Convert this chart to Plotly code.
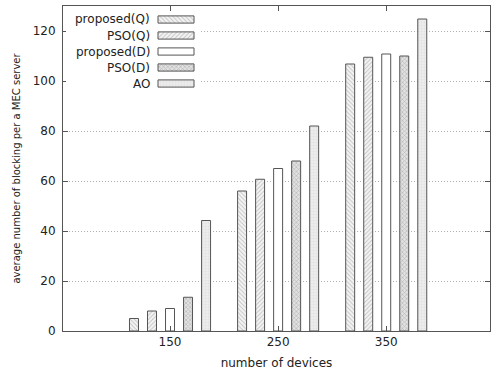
import plotly.graph_objects as go

categories = ["150", "250", "350"]
series_names = ["proposed(Q)", "PSO(Q)", "proposed(D)", "PSO(D)", "AO"]
proposed_q = [5, 56, 106.8]
pso_q = [8, 60.7, 109.5]
proposed_d = [9, 65, 110.8]
pso_d = [13.5, 68, 110]
ao = [44.2, 82, 124.8]
values = [proposed_q, pso_q, proposed_d, pso_d, ao]
y_ticks = [0, 20, 40, 60, 80, 100, 120]

styles = [
    dict(color="#f4f4f4", pattern=dict(shape="\\", fgcolor="#8f8f8f", bgcolor="#f4f4f4", size=3, solidity=0.3)),
    dict(color="#f4f4f4", pattern=dict(shape="/", fgcolor="#8f8f8f", bgcolor="#f4f4f4", size=3, solidity=0.3)),
    dict(color="#ffffff", pattern=dict(shape="")),
    dict(color="#d8d8d8", pattern=dict(shape="x", fgcolor="#8c8c8c", bgcolor="#e2e2e2", size=3, solidity=0.4)),
    dict(color="#e8e8e8", pattern=dict(shape=".", fgcolor="#d6d6d6", bgcolor="#ececec", size=3, solidity=0.3)),
]
outline = dict(color="#555555", width=1)

FONT = "DejaVu Sans"
W, H = 492, 374
L, R, T, B = 63, 2, 6, 43
pw, ph = W - L - R, H - T - B

def px2x(p):
    return (p - L) / pw

def px2y(p):
    return (H - B - p) / ph

# legend box geometry (pixels)
LX0, LX1 = 66, 200
SX0, SX1 = 158, 194

fig = go.Figure()
slot = 0.1667
bw = 0.083
for i, (name, vals) in enumerate(zip(series_names, values)):
    center = (i - 2) * slot
    fig.add_trace(go.Bar(
        x=categories, y=vals, name=name, width=bw, offset=center - bw / 2,
        marker=dict(color=styles[i]["color"], pattern=styles[i]["pattern"], line=outline),
        showlegend=False, xaxis="x", yaxis="y",
    ))

# white legend background (covers grid lines)
fig.add_trace(go.Bar(
    y=[series_names[2]], x=[1], base=[0], orientation="h", width=5.6,
    marker=dict(color="white", line=dict(width=0)),
    showlegend=False, xaxis="x2", yaxis="y2", hoverinfo="skip",
))
s0 = (SX0 - LX0) / (LX1 - LX0)
s1 = (SX1 - LX0) / (LX1 - LX0)
for i, name in enumerate(series_names):
    fig.add_trace(go.Bar(
        y=[name], x=[s1 - s0], base=[s0], orientation="h", width=0.45,
        marker=dict(color=styles[i]["color"], pattern=styles[i]["pattern"], line=outline),
        showlegend=False, xaxis="x2", yaxis="y2", hoverinfo="skip",
    ))

annotations = []
for i, name in enumerate(series_names):
    annotations.append(dict(
        x=px2x(152), y=px2y(19.5 + 16 * i), xref="paper", yref="paper",
        text=name, showarrow=False, xanchor="right", yanchor="middle",
        font=dict(family=FONT, size=12, color="#222222"),
    ))

fig.update_layout(
    width=W, height=H,
    margin=dict(l=L, r=R, t=T, b=B, autoexpand=False),
    paper_bgcolor="white", plot_bgcolor="white",
    barmode="overlay",
    font=dict(family=FONT, size=12, color="#222222"),
    xaxis=dict(
        type="category", categoryorder="array", categoryarray=categories,
        range=[-0.99, 2.96], showline=True, linecolor="#555555", linewidth=1,
        mirror="ticks", ticks="inside", ticklen=5, tickcolor="#555555",
        showgrid=False, zeroline=False, automargin=False,
        title=dict(text="number of devices", font=dict(size=12), standoff=10),
        tickfont=dict(size=12),
    ),
    yaxis=dict(
        range=[0, 130], tickvals=y_ticks, showline=True, linecolor="#555555", linewidth=1,
        mirror="ticks", ticks="inside", ticklen=5, tickcolor="#555555",
        showgrid=True, gridcolor="#b0b0b0", griddash="1px,2px", gridwidth=1,
        zeroline=False, ticklabelstandoff=4, automargin=False,
        title=dict(text="average number of blocking per a MEC server", font=dict(size=10), standoff=10),
        tickfont=dict(size=12),
    ),
    xaxis2=dict(domain=[px2x(LX0), px2x(LX1)], range=[0, 1], anchor="y2",
                visible=False, fixedrange=True),
    yaxis2=dict(domain=[px2y(91.5), px2y(11.5)], anchor="x2", type="category",
                categoryorder="array", categoryarray=series_names,
                range=[4.5, -0.5], visible=False, fixedrange=True),
    annotations=annotations,
)

fig.write_html(
    "out.html",
    config={"displayModeBar": False},
    post_script="document.body.style.margin='0';document.body.style.overflow='hidden';",
)
